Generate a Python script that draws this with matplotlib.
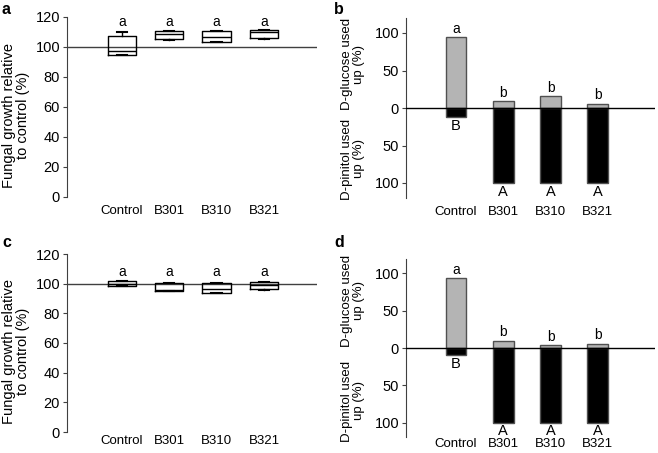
import matplotlib
matplotlib.use("Agg")
import matplotlib.pyplot as plt

plt.rcParams['font.family'] = ['Liberation Sans', 'DejaVu Sans']
plt.rcParams['font.size'] = 9

categories = ["Control", "B301", "B310", "B321"]

# Panel a box stats (fungal growth relative to control, %)
a_whislo = [95.0, 104.4, 103.2, 105.5]
a_q1 = [95.0, 105.3, 103.2, 106.1]
a_med = [97.3, 108.7, 106.8, 109.8]
a_q3 = [107.5, 110.8, 110.5, 111.1]
a_whishi = [110.2, 110.8, 110.5, 111.1]
a_letters = ["a", "a", "a", "a"]

# Panel c box stats
c_whislo = [98.2, 94.8, 94.0, 96.0]
c_q1 = [98.6, 95.1, 94.0, 96.6]
c_med = [99.6, 96.0, 96.6, 99.1]
c_q3 = [101.5, 100.6, 100.2, 101.2]
c_whishi = [101.5, 100.6, 100.2, 101.2]
c_letters = ["a", "a", "a", "a"]

# Panel b bars
b_glucose = [95, 9, 16, 6]
b_pinitol = [12, 100, 100, 100]
b_gl_letters = ["a", "b", "b", "b"]
b_pi_letters = ["B", "A", "A", "A"]

# Panel d bars
d_glucose = [93, 10, 4.5, 6]
d_pinitol = [10, 100, 100, 100]
d_gl_letters = ["a", "b", "b", "b"]
d_pi_letters = ["B", "A", "A", "A"]

W, H = 658, 453
fig = plt.figure(figsize=(W / 100, H / 100), dpi=100)


def rect(l, t, r, b):
    return [l / W, 1 - b / H, (r - l) / W, (b - t) / H]


x = list(range(len(categories)))

TICK_FS = 10.5
XLAB_FS = 9.5
LET_FS = 10


def style_axes(ax, xpad):
    for s in ["top", "right", "bottom"]:
        ax.spines[s].set_visible(False)
    ax.spines["left"].set_color("#404040")
    ax.tick_params(axis="y", length=3, color="#404040", labelsize=TICK_FS, pad=2)
    ax.set_xticks(x)
    ax.set_xticklabels(categories, fontsize=XLAB_FS)
    ax.tick_params(axis="x", length=0, pad=xpad)


def box_panel(ax, whislo, q1, med, q3, whishi, letters, xpad, let_off):
    stats = []
    for i in range(len(categories)):
        stats.append(dict(whislo=whislo[i], q1=q1[i], med=med[i], q3=q3[i],
                          whishi=whishi[i], fliers=[]))
    ax.bxp(stats, positions=x, widths=0.6, capwidths=0.22, showfliers=False,
           boxprops=dict(color="black", lw=1),
           medianprops=dict(color="black", lw=1),
           whiskerprops=dict(color="black", lw=1),
           capprops=dict(color="black", lw=1.5))
    ax.set_xlim(-1.16, 4.12)
    ax.set_ylim(0, 120)
    ax.axhline(100, color="#404040", lw=1, zorder=0)
    ax.set_yticks([0, 20, 40, 60, 80, 100, 120])
    style_axes(ax, xpad)
    for i in range(len(categories)):
        ax.text(x[i], let_off, letters[i], ha="center", va="bottom", fontsize=LET_FS)


def bar_panel(ax, gl, pi, gl_let, pi_let, ylim, xpad):
    ax.bar(x, gl, width=0.44, color="#b4b4b4", edgecolor="#505050", lw=1, zorder=2)
    ax.bar(x, [-v for v in pi], width=0.44, color="black", edgecolor="#505050", lw=1, zorder=2)
    ax.set_xlim(-1.06, 4.21)
    ax.set_ylim(-ylim, ylim)
    ax.axhline(0, color="black", lw=1, zorder=3)
    ax.set_yticks([-100, -50, 0, 50, 100])
    ax.set_yticklabels(["100", "50", "0", "50", "100"])
    style_axes(ax, xpad)
    for i in range(len(categories)):
        ax.text(x[i], gl[i] + 1.5, gl_let[i], ha="center", va="bottom", fontsize=LET_FS)
        ax.text(x[i], -pi[i] - 2, pi_let[i], ha="center", va="top", fontsize=LET_FS + 0.5)


ax_a = fig.add_axes(rect(67, 17, 317, 197))
box_panel(ax_a, a_whislo, a_q1, a_med, a_q3, a_whishi, a_letters, 6, 112)

ax_c = fig.add_axes(rect(67, 254, 317, 432))
box_panel(ax_c, c_whislo, c_q1, c_med, c_q3, c_whishi, c_letters, 2.5, 103)

ax_b = fig.add_axes(rect(406, 18, 655, 198))
bar_panel(ax_b, b_glucose, b_pinitol, b_gl_letters, b_pi_letters, 120, 6)

ax_d = fig.add_axes(rect(406, 259, 655, 437))
bar_panel(ax_d, d_glucose, d_pinitol, d_gl_letters, d_pi_letters, 119, 1)

# y labels
YL_FS = 10.5
fig.text(16 / W, 1 - 115 / H, "Fungal growth relative\nto control (%)", rotation=90,
         ha="center", va="center", fontsize=YL_FS, linespacing=1.0)
fig.text(16 / W, 1 - 351 / H, "Fungal growth relative\nto control (%)", rotation=90,
         ha="center", va="center", fontsize=YL_FS, linespacing=1.0)
YB_FS = 9.5
fig.text(353 / W, 1 - 64 / H, "D-glucose used\nup (%)", rotation=90,
         ha="center", va="center", fontsize=YB_FS, linespacing=1.05)
fig.text(353 / W, 1 - 159 / H, "D-pinitol used\nup (%)", rotation=90,
         ha="center", va="center", fontsize=YB_FS, linespacing=1.05)
fig.text(353 / W, 1 - 301 / H, "D-glucose used\nup (%)", rotation=90,
         ha="center", va="center", fontsize=YB_FS, linespacing=1.05)
fig.text(353 / W, 1 - 401 / H, "D-pinitol used\nup (%)", rotation=90,
         ha="center", va="center", fontsize=YB_FS, linespacing=1.05)

# panel letters
for lab, px, py in [("a", 2, 9), ("b", 334, 9), ("c", 2, 243), ("d", 334, 243)]:
    fig.text(px / W, 1 - py / H, lab, fontsize=11.5, fontweight="bold", ha="left", va="center")

fig.savefig("out.png", dpi=100)
